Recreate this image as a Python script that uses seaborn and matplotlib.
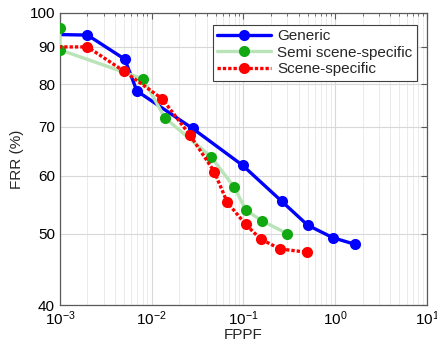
import numpy as np
import pandas as pd
import matplotlib
matplotlib.use('Agg')
import matplotlib.pyplot as plt
import matplotlib.ticker as mticker
import seaborn as sns

# FPPF / FRR(%) values
generic_fppf = [0.0005, 0.002, 0.0051, 0.0069, 0.028, 0.098, 0.261, 0.50, 0.945, 1.64]
generic_frr = [93.6, 93.3, 86.5, 78.3, 69.6, 62.0, 55.4, 51.4, 49.4, 48.4]

semi_fppf = [0.001, 0.001, 0.0081, 0.0139, 0.0443, 0.0795, 0.106, 0.159, 0.30]
semi_frr = [95.5, 89.1, 81.3, 72.0, 63.7, 57.9, 53.9, 52.1, 50.05]

scene_fppf = [0.0005, 0.002, 0.005, 0.013, 0.0261, 0.0481, 0.0667, 0.106, 0.154, 0.25, 0.495]
scene_frr = [89.9, 89.9, 83.3, 76.4, 68.2, 60.8, 55.2, 51.5, 49.2, 47.7, 47.2]

y_ticks = [40, 50, 60, 70, 80, 90, 100]

sns.set_style('white')
plt.rcParams['font.family'] = ['Liberation Sans', 'DejaVu Sans']
plt.rcParams['mathtext.fontset'] = 'custom'
plt.rcParams['mathtext.rm'] = 'Liberation Sans'

fig = plt.figure(figsize=(4.37, 3.51), dpi=100)
ax = fig.add_axes([0.137, 0.131, 0.840, 0.832])

sns.lineplot(x=generic_fppf, y=generic_frr, sort=False, estimator=None, ax=ax,
             color='#0000ff', lw=2.4, marker='o', markersize=8, markeredgewidth=0,
             label='Generic', zorder=3)
sns.lineplot(x=semi_fppf, y=semi_frr, sort=False, estimator=None, ax=ax,
             color='#b8e4b8', lw=2.4, marker='o', markersize=8, markeredgewidth=0,
             markerfacecolor='#12a812', label='Semi scene-specific', zorder=4)
sns.lineplot(x=scene_fppf, y=scene_frr, sort=False, estimator=None, ax=ax,
             color='#ff0000', lw=2.4, ls=(0, (1, 0.6)), marker='o', markersize=8,
             markeredgewidth=0, label='Scene-specific', zorder=5)

ax.set_xscale('log')
ax.set_yscale('log')
ax.set_xlim(1e-3, 10)
ax.set_ylim(40, 100)
ax.yaxis.set_major_locator(mticker.FixedLocator(y_ticks))
ax.yaxis.set_major_formatter(mticker.FixedFormatter([str(t) for t in y_ticks]))
ax.yaxis.set_minor_locator(mticker.NullLocator())
ax.xaxis.set_minor_locator(mticker.LogLocator(base=10, subs=np.arange(2, 10)))

ax.grid(True, which='major', color='#d8d8d8', lw=0.8)
ax.grid(True, which='minor', axis='x', color='#ebebeb', lw=0.7)
ax.set_axisbelow(True)

for s in ax.spines.values():
    s.set_color('#5a5a5a')
    s.set_linewidth(0.9)
ax.tick_params(which='both', direction='in', top=True, right=True,
               colors='#5a5a5a', labelcolor='black', labelsize=11)
ax.tick_params(which='major', length=4)
ax.tick_params(which='minor', length=2.5)
ax.tick_params(axis='x', which='major', pad=3)

ax.set_xlabel('FPPF', fontsize=11, labelpad=0)
ax.set_ylabel('FRR (%)', fontsize=11, labelpad=4)

leg = ax.legend(loc='upper right', bbox_to_anchor=(0.985, 0.975), fontsize=11,
                handlelength=3.5, borderpad=0.3, labelspacing=0.15,
                handletextpad=0.4, fancybox=False, framealpha=1,
                borderaxespad=0.3)
leg.get_frame().set_edgecolor('#404040')
leg.get_frame().set_linewidth(0.8)

fig.savefig('out.png', dpi=100)
